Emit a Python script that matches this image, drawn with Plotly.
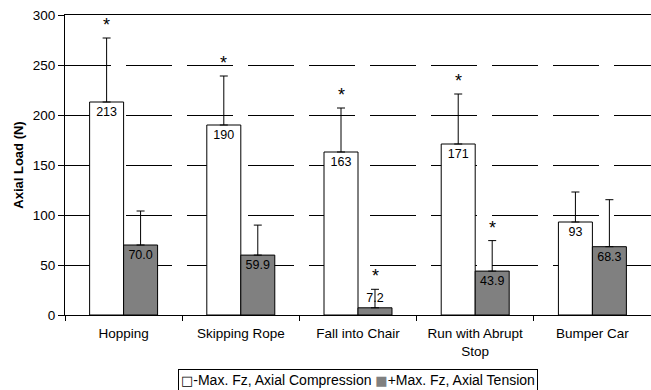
import plotly.graph_objects as go

# Activities and peak axial loads (N)
activities = ["Hopping", "Skipping Rope", "Fall into Chair", "Run with Abrupt<br>Stop", "Bumper Car"]
compression = [213, 190, 163, 171, 93]
compression_sd = [64, 49, 44, 50, 30]
tension = [70.0, 59.9, 7.2, 43.9, 68.3]
tension_sd = [34, 30, 18.5, 30.5, 47]
compression_sig = [True, True, True, True, False]
tension_sig = [False, False, True, True, False]
series_names = ["-Max. Fz, Axial Compression", "+Max. Fz, Axial Tension"]
series_colors = ["white", "#808080"]

comp_labels = [f"{v:.0f}" for v in compression]
tens_labels = [f"{v:.1f}" for v in tension]

font_family = "Liberation Sans, Arial, sans-serif"

fig = go.Figure()
for vals, sd, labels, name, color in ((compression, compression_sd, comp_labels, series_names[0], series_colors[0]),
                                      (tension, tension_sd, tens_labels, series_names[1], series_colors[1])):
    fig.add_trace(go.Bar(
        x=activities, y=vals, name=name,
        marker=dict(color=color, line=dict(color="black", width=1)),
        error_y=dict(type="data", array=sd, arrayminus=[0] * len(sd), symmetric=False,
                     color="black", thickness=1, width=4),
        text=labels, textposition="auto", insidetextanchor="end",
        textfont=dict(size=12.5, color="black", family=font_family),
        constraintext="none", cliponaxis=False,
    ))

# Significance markers above the error bars
for i, act in enumerate(activities):
    for sig, vals, sd, shift in ((compression_sig, compression, compression_sd, -17),
                                 (tension_sig, tension, tension_sd, 17)):
        if sig[i]:
            fig.add_annotation(x=act, y=vals[i] + sd[i], text="*", showarrow=False,
                               xshift=shift, yshift=1, yanchor="bottom",
                               font=dict(size=18, color="black", family=font_family))

# Compact boxed legend below the category labels
sq = "font-family:DejaVu Sans;font-size:13px"
legend_text = (f"<span style='{sq}'>\u25A1</span>{series_names[0]} "
               f"<span style='{sq};color:{series_colors[1]}'>\u25A0</span>{series_names[1]}")
fig.add_annotation(xref="paper", yref="paper", x=0.5, y=-0.18, xanchor="center", yanchor="top",
                   text=legend_text, showarrow=False, bordercolor="black", borderwidth=1,
                   borderpad=2, bgcolor="white",
                   font=dict(size=14, color="black", family=font_family))

fig.update_layout(
    width=651, height=390,
    margin=dict(l=65, r=0, t=15, b=75, autoexpand=False),
    paper_bgcolor="white", plot_bgcolor="white",
    barmode="group", bargap=0.42, bargroupgap=0,
    font=dict(family=font_family, size=13.5, color="black"),
    showlegend=False,
)
fig.update_xaxes(
    showline=True, linecolor="black", linewidth=1, mirror=True,
    ticks="outside", ticklen=5, tickcolor="black", tickson="boundaries",
    tickfont=dict(size=13.5), showgrid=False, ticklabelstandoff=6,
)
fig.update_yaxes(
    range=[0, 300], dtick=50, showline=True, linecolor="black", linewidth=1,
    ticks="outside", ticklen=6, tickcolor="black", tickfont=dict(size=13.5),
    showgrid=True, gridcolor="black", gridwidth=1, griddash="46px,15px",
    zeroline=False,
    title=dict(text="<b>Axial Load (N)</b>", font=dict(size=13), standoff=6),
)

fig.write_html("out.html")
